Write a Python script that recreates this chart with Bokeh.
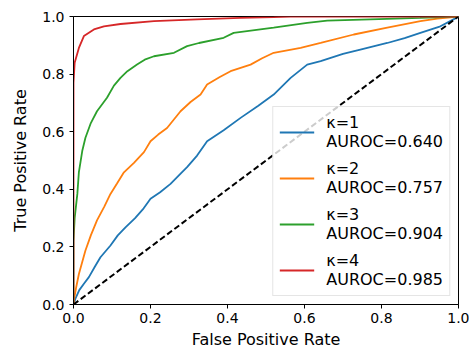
from bokeh.plotting import figure
from bokeh.models import Legend, LegendItem, FixedTicker, PrintfTickFormatter
from bokeh.embed import file_html
from bokeh.resources import INLINE

# ROC curves
fpr_k1 = [0, 0.005, 0.015, 0.027, 0.04, 0.055, 0.07, 0.096, 0.115, 0.135, 0.16, 0.18, 0.2, 0.225,
          0.252, 0.275, 0.295, 0.321, 0.347, 0.39, 0.434, 0.48, 0.52, 0.564, 0.607, 0.642, 0.7,
          0.745, 0.815, 0.86, 0.901, 0.953, 0.987, 1.0]
tpr_k1 = [0, 0.02, 0.05, 0.072, 0.095, 0.13, 0.164, 0.205, 0.24, 0.268, 0.3, 0.33, 0.367, 0.39,
          0.419, 0.45, 0.477, 0.517, 0.567, 0.605, 0.648, 0.69, 0.729, 0.787, 0.833, 0.845, 0.87,
          0.885, 0.908, 0.925, 0.943, 0.966, 0.99, 1.0]

fpr_k2 = [0, 0.001, 0.007, 0.014, 0.031, 0.045, 0.061, 0.08, 0.096, 0.113, 0.131, 0.157, 0.183,
          0.2, 0.22, 0.243, 0.278, 0.304, 0.33, 0.347, 0.38, 0.408, 0.46, 0.49, 0.52, 0.59, 0.642,
          0.728, 0.815, 0.901, 0.945, 1.0]
tpr_k2 = [0, 0.014, 0.06, 0.106, 0.1875, 0.24, 0.292, 0.34, 0.384, 0.42, 0.459, 0.492, 0.529,
          0.567, 0.59, 0.613, 0.671, 0.703, 0.729, 0.764, 0.79, 0.81, 0.833, 0.855, 0.874, 0.891,
          0.908, 0.9375, 0.961, 0.984, 0.993, 1.0]

fpr_k3 = [0, 0, 0.003, 0.01, 0.014, 0.023, 0.031, 0.045, 0.061, 0.087, 0.105, 0.122, 0.14, 0.165,
          0.185, 0.209, 0.261, 0.295, 0.326, 0.39, 0.416, 0.52, 0.607, 0.659, 0.771, 0.9, 1.0]
tpr_k3 = [0, 0.22, 0.3, 0.384, 0.46, 0.535, 0.579, 0.63, 0.671, 0.718, 0.76, 0.787, 0.81, 0.833,
          0.85, 0.862, 0.874, 0.897, 0.908, 0.926, 0.943, 0.961, 0.978, 0.986, 0.99, 0.995, 1.0]

fpr_k4 = [0, 0, 0.003, 0.014, 0.027, 0.053, 0.079, 0.122, 0.209, 0.321, 0.434, 0.52, 0.564, 1.0]
tpr_k4 = [0, 0.77, 0.839, 0.891, 0.932, 0.955, 0.966, 0.974, 0.984, 0.99, 0.995, 0.998, 1.0, 1.0]

labels = ["κ=1\nAUROC=0.640", "κ=2\nAUROC=0.757", "κ=3\nAUROC=0.904", "κ=4\nAUROC=0.985"]
colors = ["#1f77b4", "#ff7f0e", "#2ca02c", "#d62728"]
ticks = [0.0, 0.2, 0.4, 0.6, 0.8, 1.0]
chance = [0.0, 1.0]

FONT = "DejaVu Sans"

p = figure(width=469, height=353, x_range=(0, 1), y_range=(0, 1),
           output_backend="svg", toolbar_location=None,
           min_border_left=73, min_border_right=11, min_border_top=16, min_border_bottom=49)
p.background_fill_color = "white"
p.border_fill_color = "white"
p.grid.visible = False
p.outline_line_color = "black"
p.outline_line_width = 1
p.outline_line_alpha = 1

curves = [(fpr_k1, tpr_k1), (fpr_k2, tpr_k2), (fpr_k3, tpr_k3), (fpr_k4, tpr_k4)]
renderers = []
for (xs, ys), c in zip(curves, colors):
    renderers.append(p.line(xs, ys, line_color=c, line_width=1.8))

p.line(chance, chance, line_color="black", line_width=2, line_dash="6 3")

for ax in (p.xaxis, p.yaxis):
    ax.ticker = FixedTicker(ticks=ticks)
    ax.formatter = PrintfTickFormatter(format="%.1f")
    ax.major_label_text_font = FONT
    ax.major_label_text_font_size = "14px"
    ax.major_label_text_color = "black"
    ax.axis_label_text_font = FONT
    ax.axis_label_text_font_size = "16px"
    ax.axis_label_text_font_style = "normal"
    ax.axis_label_text_color = "black"
    ax.axis_line_color = "black"
    ax.major_tick_line_color = "black"
    ax.major_tick_out = 4
    ax.major_tick_in = 0
    ax.minor_tick_out = 0
    ax.minor_tick_in = 0

p.xaxis.major_label_standoff = 4
p.yaxis.major_label_standoff = 5
p.xaxis.axis_label = "False Positive Rate"
p.yaxis.axis_label = "True Positive Rate"
p.xaxis.axis_label_standoff = 4
p.yaxis.axis_label_standoff = 9

legend = Legend(items=[LegendItem(label=l, renderers=[r]) for l, r in zip(labels, renderers)],
                location="bottom_right")
legend.margin = 8
legend.padding = 6
legend.spacing = 8
legend.label_standoff = 12
legend.glyph_width = 35
legend.glyph_height = 20
legend.label_text_font = FONT
legend.label_text_font_size = "16px"
legend.label_text_color = "black"
legend.border_line_color = "#cccccc"
legend.border_line_width = 1
legend.background_fill_alpha = 0.8
p.add_layout(legend)

open("out.html", "w").write(file_html(p, INLINE))
